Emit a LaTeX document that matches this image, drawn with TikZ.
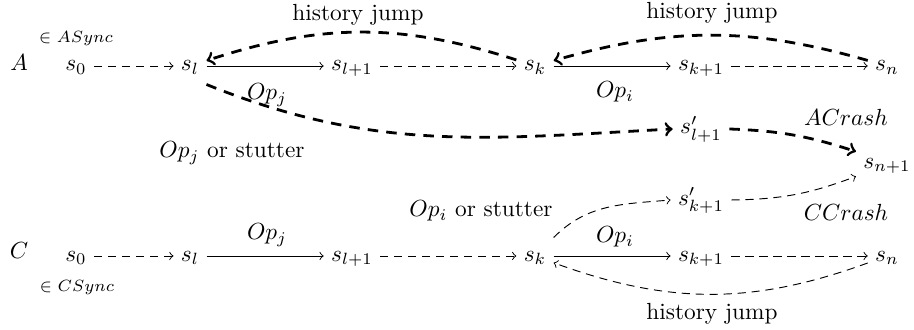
\documentclass[tikz,border=0pt]{standalone}
\usepackage{amsmath, amssymb}
\usepackage{tikz}
\tikzset{
	st/.style={anchor=base, inner sep=3pt, text height=1.6ex, text depth=.6ex},
	tag/.style={inner sep=0pt},
	jump/.style={->, line width=1.2pt, dash pattern=on 4.5pt off 3.5pt},
	thinjump/.style={->, dash pattern=on 3.5pt off 2.5pt},
}

\begin{document}
\begin{tikzpicture}[x=0.429pt, y=-0.429pt]
					\useasboundingbox (0,0) rectangle (914,330);
					% Fila A
					\node[st] (A) at (19,71) {$A$};
					\node[tag, font=\scriptsize] (async) at (76,39) {$\in ASync$};
					\node[st] (a0) at (76,71) {$s_0$};
					\node[st] (al) at (190,71) {$s_l$};
					\node[st] (al1) at (352,71) {$s_{l+1}$};
					\node[st] (ak) at (535,71) {$s_k$};
					\node[st] (ak1) at (701,71) {$s_{k+1}$};
					\node[st] (an) at (887,71) {$s_n$};
					\node[st] (alp) at (701,134) {$s'_{l+1}$};
					\node[st] (n1) at (887,168) {$s_{n+1}$};
					\node[st] (ckp) at (701,205) {$s'_{k+1}$};
					% Fila C
					\node[st] (C) at (19,258) {$C$};
					\node[tag, font=\scriptsize] (csync) at (77,288) {$\in CSync$};
					\node[st] (c0) at (76,261) {$s_0$};
					\node[st] (cl) at (190,261) {$s_l$};
					\node[st] (cl1) at (352,261) {$s_{l+1}$};
					\node[st] (ck) at (535,261) {$s_k$};
					\node[st] (ck1) at (701,261) {$s_{k+1}$};
					\node[st] (cn) at (887,261) {$s_n$};

					\draw[thinjump] (a0) -- (al);
					\draw[->] (al) -- (al1);
					\draw[thinjump] (al1) -- (ak);
					\draw[->] (ak) -- (ak1);
					\draw[thinjump] (ak1) -- (an);
					\draw[jump] (ak) to[bend right=18] (al);
					\draw[jump] (an) to[bend right=16] (ak);
					\draw[jump] (al.south east) to[out=-22, in=183] (alp.west);
					\draw[jump] (alp.east) to[bend left=8] (n1);

					\draw[thinjump] (c0) -- (cl);
					\draw[->] (cl) -- (cl1);
					\draw[thinjump] (cl1) -- (ck);
					\draw[->] (ck) -- (ck1);
					\draw[thinjump] (ck1) -- (cn);
					\draw[thinjump] (cn) to[bend left=20] (ck);
					\draw[thinjump] (ck.north east) to[out=45, in=185] (ckp.west);
					\draw[thinjump] (ckp.east) to[bend right=10] (n1);

					\node[tag] (hj1) at (358,15) {history jump};
					\node[tag] (hj2) at (712,13) {history jump};
					\node[tag] (hj3) at (712,314) {history jump};
					\node[tag] (opja) at (267,95) {$Op_j$};
					\node[tag] (opia) at (615,92) {$Op_i$};
					\node[tag] (opjc) at (267,235) {$Op_j$};
					\node[tag] (opic) at (615,237) {$Op_i$};
					\node[tag] (stj) at (232,153) {$Op_j$ or stutter};
					\node[tag] (sti) at (481,211) {$Op_i$ or stutter};
					\node[tag] (acr) at (846,117) {$ACrash$};
					\node[tag] (ccr) at (846,212) {$CCrash$};
				\end{tikzpicture}
\end{document}
